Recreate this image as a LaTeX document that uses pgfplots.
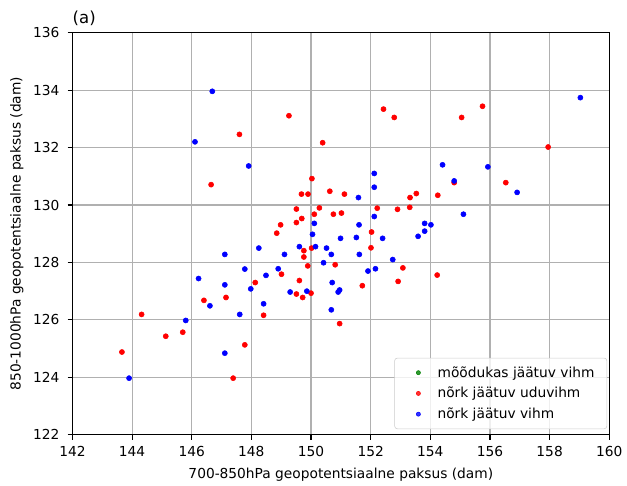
\documentclass[border=0pt]{standalone}
\usepackage{pgfplots}
\pgfplotsset{compat=1.18}
\usepackage{fontspec}
\setmainfont{DejaVu Sans}
\definecolor{mplgreen}{RGB}{0,128,0}
\definecolor{gridgray}{RGB}{176,176,176}
\definecolor{legframe}{RGB}{204,204,204}
\begin{document}
\fontsize{10}{12}\selectfont
\begin{tikzpicture}
\begin{axis}[
  scale only axis,
  width=390pt, height=292pt,
  xmin=142, xmax=160, ymin=122, ymax=136,
  xtick={142,144,...,160}, ytick={122,124,...,136},
  grid=major,
  major grid style={draw=gridgray, line width=0.8pt},
  axis line style={line width=0.8pt},
  tick style={black, line width=0.8pt},
  tick align=outside, major tick length=3.5pt,
  xtick pos=bottom, ytick pos=left,
  /pgf/number format/assume math mode=true,
  /pgf/number format/1000 sep={},
  ticklabel style={font=\fontsize{10}{12}\selectfont},
  xticklabel style={yshift=-1.5pt},
  yticklabel style={xshift=-2.5pt},
  xlabel={700-850hPa geopotentsiaalne paksus (dam)},
  ylabel={850-1000hPa geopotentsiaalne paksus (dam)},
  label style={font=\fontsize{10}{12}\selectfont},
  xlabel style={yshift=-1pt},
  legend cell align=left,
  legend style={font=\fontsize{10}{12}\selectfont, draw=legframe, rounded corners=2pt, fill=white, fill opacity=0.8, text opacity=1, at={(0.996,0.014)}, anchor=south east, row sep=1.8pt, inner xsep=7pt, inner ysep=4pt},
  legend image code/.code={\path[draw=none, fill=none] (0cm,0cm) -- (0.78cm,0cm); \fill (0.36cm,0cm) circle (1.5pt);},
  clip=false,
]
\addlegendimage{only marks, color=mplgreen}
\addlegendentry{mõõdukas jäätuv vihm}
\addplot[only marks, mark=*, color=red, mark size=1.85pt] coordinates {
(157.95,132.02) (155.75,133.44) (155.05,133.05) (152.43,133.34) (152.79,133.05)
(149.26,133.11) (150.39,132.17) (147.6,132.46) (146.65,130.71) (156.53,130.78)
(154.8,130.78) (150.03,130.92) (149.68,130.38) (149.9,130.38) (150.63,130.48)
(151.12,130.38) (153.53,130.4) (153.32,130.26) (154.25,130.34) (149.51,129.86)
(150.28,129.9) (150.11,129.68) (150.75,129.68) (151.02,129.72) (152.22,129.89)
(152.9,129.85) (153.31,129.92) (149.69,129.53) (149.51,129.39) (148.98,129.31)
(148.85,129.02) (152.03,129.06) (149.76,128.41) (150.02,128.5) (149.76,128.19)
(152.01,128.51) (150.81,127.92) (149.89,127.88) (149.01,127.59) (153.08,127.81)
(148.13,127.3) (149.61,127.37) (152.92,127.34) (154.23,127.56) (151.72,127.19)
(149.51,126.9) (149.72,126.78) (150.0,126.93) (147.15,126.78) (146.41,126.68)
(148.41,126.16) (144.32,126.19) (150.96,125.87) (145.13,125.43) (145.7,125.57)
(147.78,125.13) (143.66,124.88) (147.39,123.97)
};
\addlegendentry{nõrk jäätuv uduvihm}
\addplot[only marks, mark=*, color=blue, mark size=1.85pt] coordinates {
(159.03,133.74) (146.69,133.96) (146.11,132.2) (147.91,131.36) (154.41,131.4)
(155.93,131.33) (152.12,131.1) (154.8,130.84) (152.12,130.62) (156.91,130.44)
(151.59,130.26) (155.11,129.68) (152.12,129.6) (150.11,129.36) (151.61,129.31)
(153.81,129.36) (154.02,129.31) (153.81,129.09) (150.05,128.98) (150.99,128.84)
(151.52,128.87) (153.59,128.91) (152.4,128.84) (148.25,128.5) (149.61,128.55)
(150.15,128.55) (150.52,128.5) (149.11,128.28) (150.68,128.28) (151.62,128.28)
(152.74,128.1) (147.11,128.28) (150.42,127.99) (147.78,127.77) (148.9,127.78)
(148.49,127.55) (146.23,127.44) (151.91,127.7) (152.16,127.78) (150.71,127.3)
(147.11,127.22) (147.98,127.08) (149.3,126.97) (149.86,127.0) (150.96,127.04)
(150.91,126.97) (146.61,126.49) (148.41,126.56) (150.68,126.35) (147.61,126.19)
(145.8,125.98) (147.11,124.84) (143.9,123.97)
};
\addlegendentry{nõrk jäätuv vihm}
\node[anchor=base west, inner sep=0pt, yshift=7pt, font=\fontsize{12}{14}\selectfont] at (rel axis cs:0,1) {(a)};
\end{axis}
\path (current axis.south west) ++(-52.6pt,-33.8pt);
\path (current axis.north east) ++(8.6pt,23.8pt);
\end{tikzpicture}
\end{document}
